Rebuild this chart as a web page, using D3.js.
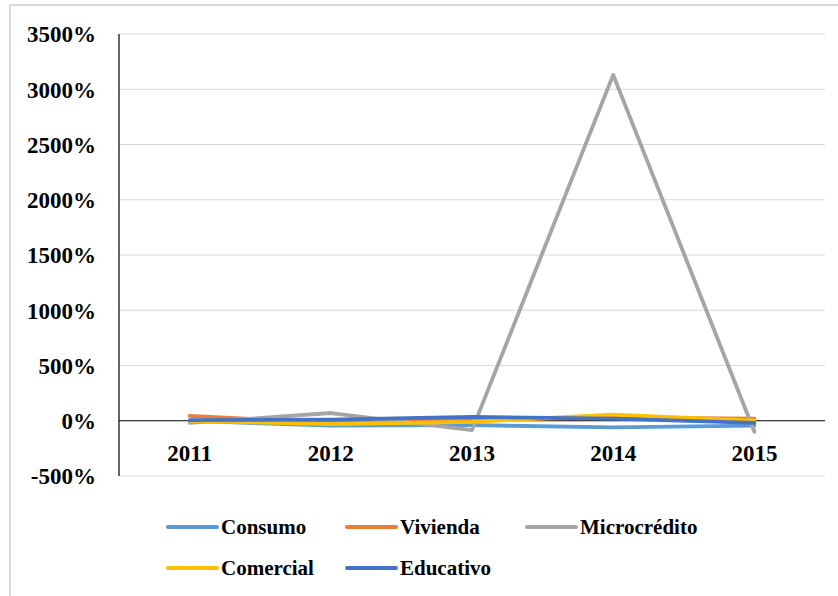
<!DOCTYPE html>
<html>
<head>
<meta charset="utf-8">
<script src="https://cdn.jsdelivr.net/npm/d3@7"></script>
<style>
  html, body { margin: 0; padding: 0; background: #fff; }
  svg { display: block; }
  text { font-family: "Liberation Serif", "Times New Roman", serif; font-weight: bold; fill: #000; }
</style>
</head>
<body>
<svg id="chart" width="838" height="596"></svg>
<script>
// Years on the category axis
const years = ["2011", "2012", "2013", "2014", "2015"];

// Annual variation per credit portfolio, in percent
const consumo      = [0, -45, -40, -60, -45];
const vivienda     = [45, -20, 10, 30, 20];
const microcredito = [-20, 70, -85, 3130, -100];
const comercial    = [0, -30, -10, 55, 0];
const educativo    = [5, 10, 35, 20, -20];

// Value axis ticks
const yTicks = [-500, 0, 500, 1000, 1500, 2000, 2500, 3000, 3500];

const seriesNames  = ["Consumo", "Vivienda", "Microcrédito", "Comercial", "Educativo"];
const seriesValues = [consumo, vivienda, microcredito, comercial, educativo];
const seriesColors = ["#5B9BD5", "#ED7D31", "#A5A5A5", "#FFC000", "#4472C4"];

const FONT = "'Liberation Serif', 'Times New Roman', serif";

const svg = d3.select("#chart");

// outer chart frame
svg.append("rect")
  .attr("x", 10).attr("y", 5).attr("width", 840).attr("height", 600)
  .attr("fill", "none").attr("stroke", "#d9d9d9").attr("stroke-width", 2);

const plot = { left: 119, right: 825, top: 34, bottom: 476 };

const x = d3.scaleBand().domain(years).range([plot.left, plot.right]);
const y = d3.scaleLinear().domain([-500, 3500]).range([plot.bottom, plot.top]);

// horizontal gridlines
svg.append("g").selectAll("line").data(yTicks.filter(t => t !== 0)).join("line")
  .attr("x1", plot.left).attr("x2", plot.right)
  .attr("y1", d => y(d)).attr("y2", d => y(d))
  .attr("stroke", "#d9d9d9").attr("stroke-width", 1.2);

// y-axis labels
const yAxis = d3.axisLeft(y).tickValues(yTicks).tickSize(0).tickPadding(0)
  .tickFormat(d => d + "%");
svg.append("g")
  .attr("transform", `translate(${plot.left - 23},0)`)
  .call(yAxis)
  .call(g => g.select(".domain").remove())
  .call(g => g.selectAll("text")
    .attr("font-family", FONT).style("font-family", FONT)
    .style("font-size", "23px").style("font-weight", "bold").attr("dy", "0.34em"));

// vertical axis line
svg.append("line")
  .attr("x1", plot.left).attr("x2", plot.left)
  .attr("y1", plot.top).attr("y2", plot.bottom)
  .attr("stroke", "#000").attr("stroke-width", 1.2);

// zero baseline
svg.append("line")
  .attr("x1", plot.left).attr("x2", plot.right)
  .attr("y1", y(0)).attr("y2", y(0))
  .attr("stroke", "#000").attr("stroke-width", 1.2);

// category labels
const xAxis = d3.axisBottom(x).tickSize(0).tickPadding(0);
svg.append("g")
  .attr("transform", `translate(0,${y(0) + 40})`)
  .call(xAxis)
  .call(g => g.select(".domain").remove())
  .call(g => g.selectAll("text")
    .attr("font-family", FONT).style("font-family", FONT)
    .style("font-size", "23px").style("font-weight", "bold").attr("dy", "0"));

// series lines
const line = d3.line()
  .x((d, i) => x(years[i]) + x.bandwidth() / 2)
  .y(d => y(d));

svg.append("g").selectAll("path").data(seriesValues).join("path")
  .attr("d", d => line(d))
  .attr("fill", "none")
  .attr("stroke", (d, i) => seriesColors[i])
  .attr("stroke-width", 3.8)
  .attr("stroke-linejoin", "round")
  .attr("stroke-linecap", "round");

// legend
const legendPos = [
  { x: 168, y: 527 }, { x: 347, y: 527 }, { x: 527, y: 527 },
  { x: 168, y: 568 }, { x: 347, y: 568 }
];
const legend = svg.append("g").selectAll("g").data(seriesNames).join("g")
  .attr("transform", (d, i) => `translate(${legendPos[i].x},${legendPos[i].y})`);
legend.append("line")
  .attr("x1", 0).attr("x2", 49).attr("y1", 0).attr("y2", 0)
  .attr("stroke", (d, i) => seriesColors[i])
  .attr("stroke-width", 4).attr("stroke-linecap", "round");
legend.append("text")
  .attr("x", 53).attr("y", 0).attr("dy", "0.34em")
  .style("font-family", FONT)
  .style("font-size", "21px")
  .text(d => d);
</script>
</body>
</html>
